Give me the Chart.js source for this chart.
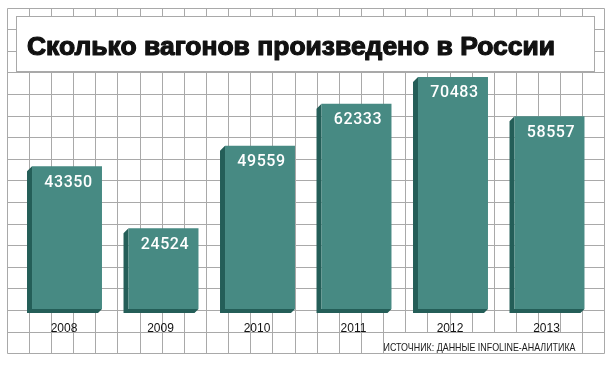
<!DOCTYPE html>
<html>
<head>
<meta charset="utf-8">
<script src="https://cdn.jsdelivr.net/npm/chart.js@4/dist/chart.umd.min.js"></script>
<style>
  html, body { margin: 0; padding: 0; background: #ffffff; }
  #wrap { width: 615px; height: 365px; }
</style>
</head>
<body>
<div id="wrap"><canvas id="c" width="615" height="365"></canvas></div>
<script>
const categories = ['2008', '2009', '2010', '2011', '2012', '2013'];
const values = [43350, 24524, 49559, 62333, 70483, 58557];
const chartTitle = 'Сколько вагонов произведено в России';
const sourceNote = 'ИСТОЧНИК: ДАННЫЕ INFOLINE-АНАЛИТИКА';

const FRONT = '#478a83';
const SIDE = '#245e58';
const GRID = '#a9a9a9';

// Decorative background grid, title panel and source note
const decorPlugin = {
  id: 'decor',
  beforeDraw(chart) {
    const ctx = chart.ctx;
    ctx.save();
    ctx.fillStyle = '#ffffff';
    ctx.fillRect(0, 0, chart.width, chart.height);
    ctx.strokeStyle = GRID;
    ctx.lineWidth = 1;
    const x0 = 6.7, dx = 22.14, nx = 27;
    const y0 = 7.5, dy = 21.6, ny = 16;
    const xEnd = x0 + dx * nx, yEnd = y0 + dy * ny;
    ctx.beginPath();
    for (let i = 0; i <= nx; i++) {
      const x = Math.round(x0 + dx * i) + 0.5;
      ctx.moveTo(x, Math.round(y0) + 0.5);
      ctx.lineTo(x, Math.round(yEnd) + 0.5);
    }
    for (let j = 0; j <= ny; j++) {
      const y = Math.round(y0 + dy * j) + 0.5;
      ctx.moveTo(Math.round(x0) + 0.5, y);
      ctx.lineTo(Math.round(xEnd) + 0.5, y);
    }
    ctx.stroke();

    // title panel
    const bx = 16.5, by = 16.5, bw = 578, bh = 55;
    ctx.fillStyle = '#ffffff';
    ctx.fillRect(bx, by, bw, bh);
    ctx.strokeRect(bx, by, bw, bh);

    // title text
    ctx.fillStyle = '#111111';
    ctx.font = 'bold 26px "Liberation Sans", Arial, sans-serif';
    ctx.textBaseline = 'alphabetic';
    ctx.textAlign = 'left';
    const tw = ctx.measureText(chartTitle).width;
    const sx = 528 / tw;
    ctx.save();
    ctx.translate(27, 55);
    ctx.scale(sx, 1);
    ctx.lineWidth = 1.2;
    ctx.lineJoin = 'round';
    ctx.strokeStyle = '#111111';
    ctx.strokeText(chartTitle, 0, 0);
    ctx.fillText(chartTitle, 0, 0);
    ctx.restore();

    // source note
    ctx.fillStyle = '#ffffff';
    ctx.fillRect(384, 333, 198, 20);
    ctx.fillStyle = '#1a1a1a';
    ctx.font = '10.5px "Liberation Sans", Arial, sans-serif';
    const sw = ctx.measureText(sourceNote).width;
    ctx.save();
    ctx.translate(383.5, 350.8);
    ctx.scale(192 / sw, 1);
    ctx.fillText(sourceNote, 0, 0);
    ctx.restore();
    ctx.restore();
  }
};

// 3D extrusion behind each bar, and value labels
const extrudePlugin = {
  id: 'extrude',
  beforeDatasetsDraw(chart) {
    const ctx = chart.ctx;
    const meta = chart.getDatasetMeta(0);
    ctx.save();
    ctx.fillStyle = SIDE;
    meta.data.forEach(bar => {
      const p = bar.getProps(['x', 'y', 'base', 'width'], true);
      const l = p.x - p.width / 2, r = p.x + p.width / 2;
      const t = p.y, b = p.base;
      ctx.beginPath();
      ctx.moveTo(l, t);
      ctx.lineTo(l - 5, t + 5);
      ctx.lineTo(l - 5, b + 4);
      ctx.lineTo(r - 4, b + 4);
      ctx.lineTo(r, b);
      ctx.lineTo(l, b);
      ctx.closePath();
      ctx.fill();
    });
    ctx.restore();
  },
  afterDatasetsDraw(chart) {
    const ctx = chart.ctx;
    const meta = chart.getDatasetMeta(0);
    const data = chart.data.datasets[0].data;
    ctx.save();
    ctx.fillStyle = '#ffffff';
    ctx.font = '500 16px Roboto, "Liberation Sans", Arial, sans-serif';
    try { ctx.letterSpacing = '0.6px'; } catch (e) {}
    ctx.textAlign = 'center';
    ctx.textBaseline = 'alphabetic';
    meta.data.forEach((bar, i) => {
      const p = bar.getProps(['x', 'y'], true);
      ctx.fillText(String(data[i]), p.x + 1.5, p.y + 20.5);
    });
    ctx.restore();
  }
};

new Chart(document.getElementById('c'), {
  type: 'bar',
  data: {
    labels: categories,
    datasets: [{
      data: values,
      backgroundColor: FRONT,
      borderWidth: 0,
      barPercentage: 0.725,
      categoryPercentage: 1.0
    }]
  },
  options: {
    responsive: false,
    animation: false,
    devicePixelRatio: 1,
    layout: { padding: { left: 18.75, right: 17.25, top: 45.6, bottom: 32 } },
    plugins: {
      legend: { display: false },
      tooltip: { enabled: false },
      title: { display: false }
    },
    scales: {
      x: {
        grid: { display: false, drawTicks: false },
        border: { display: false },
        ticks: {
          color: '#111111',
          font: { family: '"Liberation Sans", Arial, sans-serif', size: 12 },
          padding: 12,
          labelOffset: -3
        },
        afterFit(scale) { scale.height = 24; }
      },
      y: {
        display: false,
        min: 0,
        max: 80000
      }
    }
  },
  plugins: [decorPlugin, extrudePlugin]
});
</script>
</body>
</html>
